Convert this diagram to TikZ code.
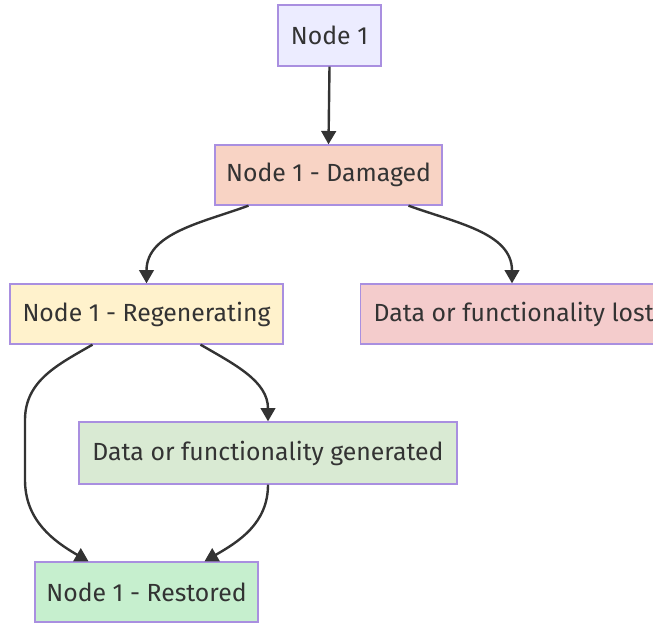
\documentclass[tikz,border=0pt]{standalone}
\usepackage{fontspec}
\setmainfont{Fira Sans}
\usetikzlibrary{calc,arrows.meta}
\definecolor{txt}{HTML}{333333}
\definecolor{bord}{HTML}{A98FE0}
\definecolor{edge}{HTML}{333333}
\definecolor{cA}{HTML}{ECECFF}
\definecolor{cB}{HTML}{F8D3C4}
\definecolor{cC}{HTML}{FFF2CC}
\definecolor{cD}{HTML}{F4CCCC}
\definecolor{cE}{HTML}{D9EAD3}
\definecolor{cF}{HTML}{C6EFCE}
\begin{document}
\begin{tikzpicture}[x=0.75pt,y=-0.75pt,
  box/.style={draw=bord,line width=1pt,inner sep=0pt,text=txt,font=\fontsize{18.6}{20}\selectfont},
  conn/.style={draw=edge,line width=1.8pt,-{Triangle[length=10pt,width=11pt]}}]
\useasboundingbox (0,0) rectangle (653,624);
\node[box,fill=cA,minimum width=103*0.75pt,minimum height=61*0.75pt] (n1) at (329.5,35.5) {Node 1};
\node[box,fill=cB,minimum width=227*0.75pt,minimum height=60*0.75pt] (dam) at (328.5,175) {Node 1 - Damaged};
\node[box,fill=cC,minimum width=273*0.75pt,minimum height=60*0.75pt] (reg) at (146.5,314) {Node 1 - Regenerating};
\node[box,fill=cD,minimum height=60*0.75pt,anchor=west,inner xsep=13*0.75pt] (lost) at (360,314) {\makebox[202.5pt][l]{Data or functionality lost}};
\node[box,fill=cE,minimum width=378*0.75pt,minimum height=62*0.75pt] (gen) at (268,453) {Data or functionality generated};
\node[box,fill=cF,minimum width=223*0.75pt,minimum height=60*0.75pt] (res) at (146.5,592) {Node 1 - Restored};
\draw[conn] (n1.south) -- (dam.north);
\draw[conn] ($(dam.south)+(-80,0)$) to[out=-160,in=90] (reg.north);
\draw[conn] ($(dam.south)+(80,0)$) to[out=-20,in=90] ($(lost.north west)+(152,0)$);
\draw[conn] ($(reg.south)+(54,0)$) to[out=-30,in=90] (gen.north);
\draw[conn] ($(reg.south)+(-54,0)$) to[out=-150,in=90] (25,420) -- (25,480) to[out=-90,in=150] ($(res.north)+(-58,0)$);
\draw[conn] (gen.south) to[out=-90,in=30] ($(res.north)+(58,0)$);
\end{tikzpicture}
\end{document}
